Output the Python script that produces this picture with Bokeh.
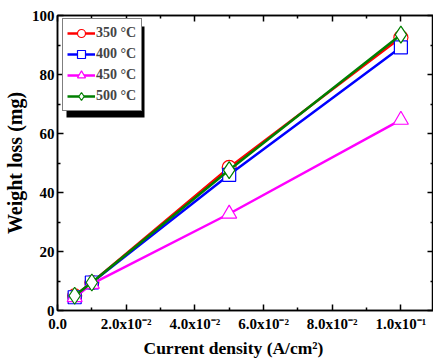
from bokeh.plotting import figure
from bokeh.models import (Range1d, LinearAxis, FixedTicker, CustomJSTickFormatter,
                          Legend, LegendItem, BoxAnnotation, Title)
from bokeh.embed import file_html
from bokeh.resources import INLINE

# ---- data ----
current_density = [0.005, 0.01, 0.05, 0.1]
loss_350 = [5.0, 9.5, 48.5, 92.5]
loss_400 = [4.5, 9.5, 46.0, 89.2]
loss_450 = [4.5, 9.0, 32.8, 64.6]
loss_500 = [5.0, 9.5, 47.6, 93.5]
series_labels = ["350 \u00b0C", "400 \u00b0C", "450 \u00b0C", "500 \u00b0C"]
x_ticks = [0.0, 0.02, 0.04, 0.06, 0.08, 0.1]
x_tick_labels = ["0.0", "2.0x10\u207b\u00b2", "4.0x10\u207b\u00b2", "6.0x10\u207b\u00b2",
                 "8.0x10\u207b\u00b2", "1.0x10\u207b\u00b9"]
y_ticks = [0, 20, 40, 60, 80, 100]
x_minor = [0.01, 0.03, 0.05, 0.07, 0.09]
y_minor = [10, 30, 50, 70, 90]
x_title = "Current density (A/cm\u00b2)"
y_title = "Weight loss (mg)"

FONT = "Liberation Serif"
FRAME_H = 293

p = figure(width=433, height=358, output_backend="svg", toolbar_location=None,
           x_range=Range1d(0, 0.1095), y_range=Range1d(0, 100),
           min_border_left=4, min_border_right=0, min_border_top=15, min_border_bottom=0)
p.xgrid.visible = False
p.ygrid.visible = False
p.outline_line_color = "black"
p.outline_line_width = 1.5

fmt = CustomJSTickFormatter(args=dict(tvals=x_ticks, tlabels=x_tick_labels), code="""
let best = 0, d = 1e9;
for (let i = 0; i < tvals.length; i++) {
  const dd = Math.abs(tvals[i] - tick);
  if (dd < d) { d = dd; best = i; }
}
return tlabels[best];
""")
blank = CustomJSTickFormatter(code="return '';")

def style_axis(ax):
    ax.axis_line_width = 1.5
    ax.major_tick_in = 6
    ax.major_tick_out = 0
    ax.minor_tick_in = 3
    ax.minor_tick_out = 0
    ax.major_tick_line_width = 1.5
    ax.minor_tick_line_width = 1.5
    ax.major_label_text_font = FONT
    ax.major_label_text_font_style = "bold"
    ax.major_label_text_font_size = "15px"
    ax.major_label_text_color = "black"
    ax.axis_label_text_font = FONT
    ax.axis_label_text_font_style = "bold"
    ax.axis_label_text_color = "black"

xax = p.xaxis[0]
xax.ticker = FixedTicker(ticks=x_ticks, minor_ticks=x_minor)
xax.formatter = fmt
style_axis(xax)
xax.major_label_standoff = 5

yax = p.yaxis[0]
yax.ticker = FixedTicker(ticks=y_ticks, minor_ticks=y_minor)
yax.axis_label = y_title
style_axis(yax)
yax.axis_label_text_font_size = "20px"
yax.major_label_standoff = 3
yax.axis_label_standoff = 3

top = LinearAxis(ticker=FixedTicker(ticks=x_ticks, minor_ticks=x_minor), formatter=blank)
style_axis(top)
top.major_label_standoff = 0
p.add_layout(top, "above")
right = LinearAxis(ticker=FixedTicker(ticks=y_ticks, minor_ticks=y_minor), formatter=blank)
style_axis(right)
right.major_label_standoff = 0
p.add_layout(right, "right")

p.add_layout(Title(text=x_title, align="left", offset=86, standoff=2,
                   text_font=FONT, text_font_style="bold", text_font_size="17.5px",
                   text_color="black"), "below")

colors = ["#ff0000", "#0000ff", "#ff00ff", "#007f00"]
markers = ["circle", "square", "triangle", "diamond"]
sizes = [14, 13, 15, 17]
series = [loss_350, loss_400, loss_450, loss_500]
items = []
for ys, c, m, s, lab in zip(series, colors, markers, sizes, series_labels):
    r1 = p.line(current_density, ys, line_color=c, line_width=2.5)
    r2 = p.scatter(current_density, ys, marker=m, size=s, line_color=c,
                   fill_color="white", line_width=1.2)
    items.append(LegendItem(label=lab, renderers=[r1, r2]))

# legend geometry (screen px, relative to frame bottom-left)
LEG_PAD, LEG_GW, LEG_LW, LEG_ROW = 4, 28, 41, 20
leg_w = 2 * LEG_PAD + LEG_GW + 1 + LEG_LW
leg_h = 2 * LEG_PAD + 4 * LEG_ROW + 3
leg_x = 5
leg_y = FRAME_H - 3 - leg_h

shadow = BoxAnnotation(left=leg_x + 4, right=leg_x + leg_w + 4,
                       bottom=leg_y - 6, top=leg_y + leg_h - 6,
                       left_units="screen", right_units="screen",
                       top_units="screen", bottom_units="screen",
                       fill_color="black", fill_alpha=1.0, line_color=None,
                       level="annotation")
p.add_layout(shadow)

legend = Legend(items=items, location=(leg_x, leg_y), margin=0, padding=LEG_PAD,
                spacing=1, glyph_width=LEG_GW, glyph_height=LEG_ROW, label_height=LEG_ROW,
                label_width=LEG_LW, label_standoff=1,
                border_line_color="black", border_line_width=1.5,
                label_text_font=FONT, label_text_font_style="bold",
                label_text_font_size="14px", background_fill_alpha=1.0,
                level="annotation")
p.add_layout(legend)

open("out.html", "w").write(file_html(p, INLINE))
